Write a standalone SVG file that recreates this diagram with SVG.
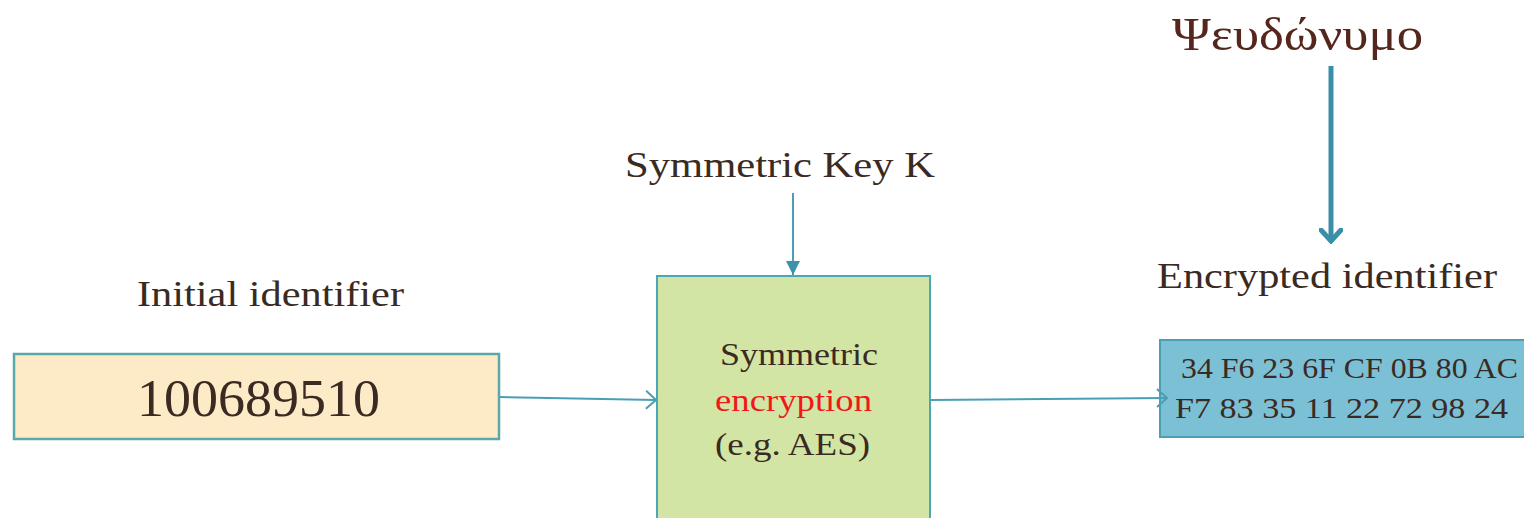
<svg xmlns="http://www.w3.org/2000/svg" width="1524" height="518" viewBox="0 0 1524 518">
<style>
text{font-family:"Liberation Serif","DejaVu Serif",serif;fill:#3a2a22}
.lbl{font-size:36px}
.conn{stroke:#4a9fb5;stroke-width:2;fill:none}
</style>
<defs>
<marker id="filled" viewBox="0 0 10 10" refX="10" refY="5" markerWidth="14" markerHeight="14" markerUnits="userSpaceOnUse" orient="auto" preserveAspectRatio="none">
<path d="M0,0 L10,5 L0,10 z" fill="#3b92ab"/>
</marker>
<marker id="open" viewBox="0 0 12 20" refX="11" refY="10" markerWidth="12" markerHeight="20" markerUnits="userSpaceOnUse" orient="auto">
<path d="M1,1 L11,10 L1,19" fill="none" stroke="#4a9fb5" stroke-width="2"/>
</marker>
<marker id="chev" viewBox="0 0 24 16" refX="12" refY="14" markerWidth="24" markerHeight="16" markerUnits="userSpaceOnUse" orient="0">
<path d="M2,2 L12,13 L22,2" fill="none" stroke="#3a8fa8" stroke-width="5" stroke-linecap="round"/>
</marker>
</defs>
<rect width="1524" height="518" fill="#fff"/>
<g id="initial">
<text class="lbl" x="137" y="306" textLength="267" lengthAdjust="spacingAndGlyphs">Initial  identifier</text>
<rect x="14" y="354" width="485" height="85" fill="#fdebc8" stroke="#5aa8a8" stroke-width="2.5"/>
<text x="137" y="416" font-size="52" textLength="243" lengthAdjust="spacingAndGlyphs">100689510</text>
</g>
<g id="encryption">
<text class="lbl" x="625" y="177" textLength="310" lengthAdjust="spacingAndGlyphs">Symmetric  Key  K</text>
<rect x="657" y="276" width="273" height="260" fill="#d3e5a5" stroke="#4ba6b8" stroke-width="2"/>
<text x="720" y="365" font-size="31" textLength="158" lengthAdjust="spacingAndGlyphs">Symmetric</text>
<text x="715" y="411" font-size="31" textLength="157" lengthAdjust="spacingAndGlyphs" style="fill:#f01818">encryption</text>
<text x="715" y="455" font-size="31" textLength="155" lengthAdjust="spacingAndGlyphs">(e.g. AES)</text>
</g>
<g id="encrypted">
<text class="lbl" x="1157" y="288" textLength="340" lengthAdjust="spacingAndGlyphs">Encrypted  identifier</text>
<rect x="1160" y="340" width="380" height="97" fill="#7cc0d5" stroke="#4a9fb5" stroke-width="2"/>
<text x="1181" y="378" font-size="29" textLength="337" lengthAdjust="spacingAndGlyphs">34 F6 23 6F CF 0B  80 AC</text>
<text x="1175" y="418" font-size="29" textLength="333" lengthAdjust="spacingAndGlyphs">F7 83 35 11 22 72 98 24</text>
</g>
<g id="pseudonym">
<text x="1172" y="50" font-size="46" textLength="251" lengthAdjust="spacingAndGlyphs" style="fill:#55271c">Ψευδώνυμο</text>
</g>
<g id="connectors">
<line class="conn" x1="793" y1="193" x2="793" y2="275" marker-end="url(#filled)"/>
<line class="conn" x1="500" y1="397" x2="656" y2="400" marker-end="url(#open)"/>
<line class="conn" x1="931" y1="400" x2="1167" y2="398" marker-end="url(#open)"/>
<line x1="1331" y1="66" x2="1331" y2="242" stroke="#3a8fa8" stroke-width="5" marker-end="url(#chev)"/>
</g>
</svg>
